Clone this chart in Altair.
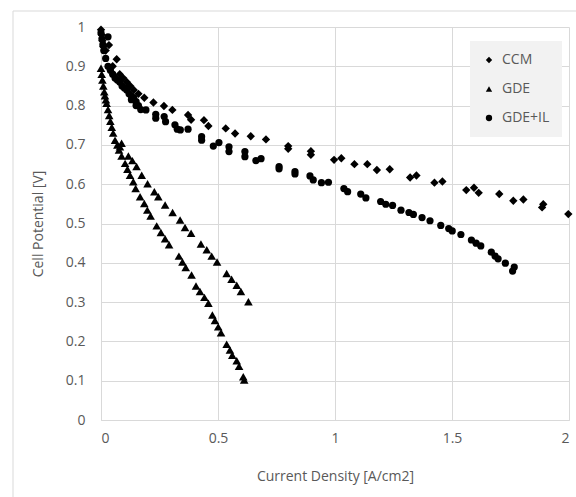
import altair as alt
import pandas as pd

# ---- data ----
ccm_x = [0.000, 0.003, 0.006, 0.010, 0.020, 0.034, 0.050, 0.067, 0.080, 0.095, 0.110, 0.125,
         0.140, 0.160, 0.185, 0.224, 0.269, 0.305, 0.372, 0.385, 0.440, 0.459, 0.533, 0.573,
         0.640, 0.705, 0.800, 0.800, 0.897, 0.897, 0.996, 1.027, 1.083, 1.138, 1.179, 1.234,
         1.321, 1.348, 1.425, 1.459, 1.561, 1.594, 1.614, 1.702, 1.762, 1.805, 1.885, 1.890, 1.997]
ccm_y = [0.993, 0.980, 0.965, 0.950, 0.940, 0.954, 0.900, 0.918, 0.880, 0.870, 0.860, 0.850,
         0.840, 0.830, 0.820, 0.808, 0.799, 0.789, 0.776, 0.764, 0.763, 0.748, 0.742, 0.729,
         0.722, 0.714, 0.697, 0.690, 0.684, 0.675, 0.662, 0.666, 0.651, 0.651, 0.636, 0.638,
         0.617, 0.622, 0.604, 0.607, 0.585, 0.591, 0.578, 0.575, 0.558, 0.561, 0.541, 0.549, 0.524]

gde_x = [0.000, 0.003, 0.006, 0.010, 0.014, 0.017, 0.021, 0.024, 0.030, 0.035, 0.040, 0.046,
         0.052, 0.060, 0.070, 0.081, 0.088,
         0.117, 0.134, 0.152, 0.174, 0.199, 0.228, 0.245, 0.274, 0.306, 0.338, 0.359, 0.385,
         0.427, 0.452, 0.473, 0.496, 0.537, 0.558, 0.580, 0.598, 0.630,
         0.077, 0.088, 0.103, 0.113, 0.124, 0.138, 0.148, 0.167, 0.185, 0.198, 0.212, 0.238,
         0.256, 0.274, 0.291, 0.333, 0.348, 0.362, 0.387, 0.406, 0.423, 0.442, 0.459, 0.476,
         0.487, 0.501, 0.513, 0.537, 0.551, 0.561, 0.580, 0.590, 0.608, 0.612]
gde_y = [0.895, 0.880, 0.865, 0.850, 0.835, 0.825, 0.815, 0.806, 0.790, 0.775, 0.760, 0.745,
         0.730, 0.712, 0.700, 0.695, 0.704,
         0.672, 0.660, 0.645, 0.623, 0.601, 0.581, 0.568, 0.547, 0.528, 0.509, 0.490, 0.475,
         0.448, 0.433, 0.417, 0.402, 0.373, 0.358, 0.343, 0.327, 0.301,
         0.687, 0.672, 0.653, 0.638, 0.623, 0.606, 0.589, 0.568, 0.551, 0.534, 0.519, 0.494,
         0.477, 0.461, 0.446, 0.417, 0.402, 0.388, 0.369, 0.341, 0.327, 0.312, 0.297, 0.267,
         0.253, 0.237, 0.222, 0.193, 0.178, 0.165, 0.151, 0.137, 0.110, 0.102]

il_x = [0.000, 0.004, 0.008, 0.012, 0.030, 0.020, 0.030, 0.040, 0.050, 0.060, 0.070, 0.080,
        0.090, 0.100, 0.110, 0.120, 0.130, 0.140, 0.150, 0.160, 0.170, 0.130, 0.150,
        0.192, 0.234, 0.234, 0.270, 0.276, 0.316, 0.326, 0.339, 0.372, 0.430, 0.430, 0.480,
        0.504, 0.547, 0.547, 0.615, 0.615, 0.662, 0.684, 0.761, 0.761, 0.829, 0.829, 0.893,
        0.907, 0.942, 0.972, 1.038, 1.054, 1.110, 1.132, 1.195, 1.217, 1.246, 1.282, 1.316,
        1.335, 1.372, 1.406, 1.452, 1.486, 1.501, 1.538, 1.583, 1.603, 1.623, 1.668, 1.684,
        1.697, 1.728, 1.766, 1.759]
il_y = [0.985, 0.970, 0.955, 0.940, 0.975, 0.920, 0.900, 0.890, 0.880, 0.870, 0.865, 0.860,
        0.850, 0.845, 0.840, 0.830, 0.825, 0.820, 0.810, 0.800, 0.790, 0.815, 0.800,
        0.789, 0.778, 0.768, 0.772, 0.759, 0.751, 0.740, 0.738, 0.740, 0.721, 0.712, 0.697,
        0.706, 0.695, 0.683, 0.683, 0.670, 0.660, 0.665, 0.645, 0.639, 0.632, 0.626, 0.621,
        0.611, 0.604, 0.605, 0.589, 0.581, 0.575, 0.565, 0.556, 0.549, 0.546, 0.534, 0.528,
        0.523, 0.515, 0.507, 0.495, 0.487, 0.481, 0.472, 0.458, 0.450, 0.443, 0.427, 0.417,
        0.410, 0.399, 0.389, 0.379]

series = ["CCM", "GDE", "GDE+IL"]
shapes = ["diamond", "triangle-up", "circle"]
marker_sizes = [70, 74, 52]
x_ticks = [0, 0.5, 1, 1.5, 2]
y_ticks = [0, 0.1, 0.2, 0.3, 0.4, 0.5, 0.6, 0.7, 0.8, 0.9, 1.0]

FONT = "Open Sans"
GREY = "#595959"
GRID = "#d9d9d9"

x_enc = alt.X("j:Q", scale=alt.Scale(domain=[0, 2], nice=False),
              axis=alt.Axis(values=x_ticks, format=".1~f", title="Current Density [A/cm2]",
                            grid=True, gridColor=GRID, domainColor=GRID, ticks=False,
                            labelPadding=11, titlePadding=24))
y_enc = alt.Y("V:Q", scale=alt.Scale(domain=[0, 1], nice=False),
              axis=alt.Axis(values=y_ticks, format=".1~f", title="Cell Potential [V]",
                            grid=True, gridColor=GRID, domainColor=GRID, ticks=False,
                            labelPadding=16, titlePadding=20))
shape_enc = alt.Shape("Series:N", scale=alt.Scale(domain=series, range=shapes),
                      legend=alt.Legend(title=None, orient="none", legendX=369, legendY=14,
                                        fillColor="#f2f2f2", padding=12, rowPadding=15,
                                        symbolSize=40, symbolFillColor="black",
                                        symbolStrokeWidth=0, labelFontSize=14,
                                        labelColor=GREY, labelFont=FONT, labelOffset=6))

layers = []
for name, xs, ys, sz in [("CCM", ccm_x, ccm_y, marker_sizes[0]),
                         ("GDE", gde_x, gde_y, marker_sizes[1]),
                         ("GDE+IL", il_x, il_y, marker_sizes[2])]:
    d = pd.DataFrame({"j": xs, "V": ys, "Series": name})
    layers.append(alt.Chart(d).mark_point(filled=True, color="black", opacity=1, size=sz)
                  .encode(x=x_enc, y=y_enc, shape=shape_enc))

frame = alt.Chart(pd.DataFrame({"k": [0]})).mark_rect(
    filled=False, stroke=GRID, strokeWidth=1).encode(
    x=alt.value(-88), x2=alt.value(520), y=alt.value(-16), y2=alt.value(500))

chart = alt.layer(frame, *layers).properties(
    width=468, height=393,
    padding={"left": 101, "top": 27, "right": 7, "bottom": 77},
    autosize=alt.AutoSizeParams(type="none"),
).configure_view(stroke=None).configure_axis(
    labelFont=FONT, labelFontSize=14, labelColor=GREY,
    titleFont=FONT, titleFontSize=14, titleColor=GREY, titleFontWeight="normal",
)

chart.save("out.html", embed_options={"renderer": "svg", "actions": False})
